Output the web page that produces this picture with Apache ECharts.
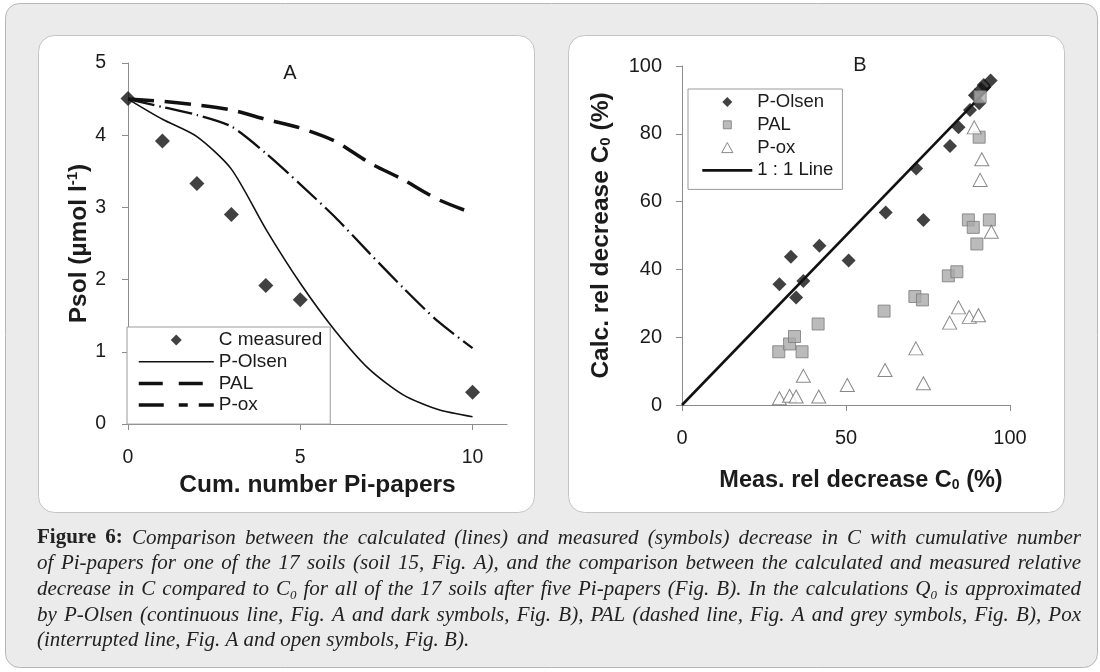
<!DOCTYPE html>
<html>
<head>
<meta charset="utf-8">
<script src="https://cdn.jsdelivr.net/npm/echarts@6/dist/echarts.min.js"></script>
<style>
  html, body { margin: 0; padding: 0; background: #fff; }
  #c { width: 1100px; height: 672px; }
</style>
</head>
<body>
<div id="c"></div>
<script>
// ---- Fig. A: Psol versus cumulative number of Pi-papers (soil 15) ----
const papers = [0, 1, 2, 3, 4, 5, 6, 7, 8, 9, 10];
const measuredPapers = [0, 1, 2, 3, 4, 5, 10];
const measuredPsol = [4.51, 3.92, 3.33, 2.90, 1.92, 1.72, 0.44];
const olsenPsol = [4.50, 4.22, 3.98, 3.53, 2.70, 1.95, 1.30, 0.76, 0.40, 0.20, 0.10];
const palPsol   = [4.50, 4.47, 4.42, 4.35, 4.22, 4.10, 3.92, 3.62, 3.38, 3.11, 2.92];
const poxPsol   = [4.50, 4.39, 4.28, 4.12, 3.75, 3.32, 2.87, 2.37, 1.88, 1.42, 1.05];
const ticksA_x = [0, 5, 10];

// ---- Fig. B: measured vs calculated relative decrease of C0, 17 soils ----
const olsenMeas = [29.7, 33.2, 34.8, 37.0, 41.9, 50.8, 62.1, 71.4, 73.6, 81.7, 84.3, 87.8, 89.3, 90.6, 91.2, 92.0, 94.1];
const olsenCalc = [35.6, 43.7, 31.7, 36.6, 47.0, 42.6, 56.8, 69.8, 54.6, 76.4, 81.9, 87.0, 91.4, 89.0, 93.2, 94.4, 95.7];
const palMeas = [29.5, 32.8, 34.3, 36.6, 41.5, 61.6, 71.0, 73.3, 81.2, 83.8, 87.3, 88.8, 89.9, 90.6, 90.9, 93.7];
const palCalc = [15.7, 18.0, 20.2, 15.7, 23.9, 27.7, 32.0, 31.0, 38.1, 39.3, 54.6, 52.4, 47.5, 79.0, 90.9, 54.6];
const poxMeas = [29.7, 32.8, 34.8, 37.0, 41.7, 50.4, 61.9, 71.3, 73.6, 81.6, 84.3, 87.6, 90.4, 89.1, 91.4, 90.9, 94.3];
const poxCalc = [2.0, 2.7, 2.5, 8.6, 2.5, 5.9, 10.3, 16.7, 6.4, 24.3, 28.8, 26.0, 26.5, 81.9, 72.5, 66.4, 51.1];
const oneToOne = [0, 94];

const captionLead = ['Figure', '6:'];
const captionLines = [
  'Comparison between the calculated (lines) and measured (symbols) decrease in C with cumulative number',
  'of Pi-papers for one of the 17 soils (soil 15, Fig. A), and the comparison between the calculated and measured relative',
  'decrease in C compared to C_0 for all of the 17 soils after five Pi-papers (Fig. B). In the calculations Q_0 is approximated',
  'by P-Olsen (continuous line, Fig. A and dark symbols, Fig. B), PAL (dashed line, Fig. A and grey symbols, Fig. B), Pox',
  '(interrupted line, Fig. A and open symbols, Fig. B).'
];

const SANS = '"Liberation Sans", Arial, Helvetica, sans-serif';
const SERIF = '"Liberation Serif", "DejaVu Serif", serif';
const INK = '#1b1b1b';
const AXIS = '#8c8c8c';
const zip = (a, b) => a.map((v, i) => [v, b[i]]);

// legend glyphs (path icons keep their aspect ratio inside the legend box)
const ICON_DIAMOND = 'path://M5,0L10,5L5,10L0,5Z';
const ICON_SQUARE = 'path://M0,0M10,10M1,1L9,1L9,9L1,9Z';
const ICON_TRIANGLE = 'path://M5,0L10,9L0,9Z';

// Caption: justified lines of italic serif text, laid out word by word
function captionElements() {
  const ctx = document.createElement('canvas').getContext('2d');
  const X0 = 37, X1 = 1081, W = X1 - X0, Y0 = 538, LH = 25.7;
  const fontFor = (run, size) => run.bold
    ? `bold ${size}px ${SERIF}`
    : `italic ${run.sub ? Math.round(size * 0.62) : size}px ${SERIF}`;
  const measure = (run, size) => { ctx.font = fontFor(run, size); return ctx.measureText(run.t).width; };
  const lines = captionLines.map((line, i) => {
    const words = [];
    if (i === 0) captionLead.forEach(t => words.push([{ t, bold: true }]));
    line.split(' ').forEach(w => {
      const m = w.match(/^(.*?)_(\d)(.*)$/);
      if (m) {
        const runs = [{ t: m[1] }, { t: m[2], sub: true }];
        if (m[3]) runs.push({ t: m[3] });
        words.push(runs);
      } else words.push([{ t: w }]);
    });
    return words;
  });
  const wordW = (word, size) => word.reduce((s, r) => s + measure(r, size), 0);
  const spaceW = size => measure({ t: ' ' }, size);
  // pick a size so the fullest justified line still fits with normal spacing
  let size = 20;
  let widest = 0;
  lines.slice(0, 4).forEach(ws => {
    const nat = ws.reduce((s, w) => s + wordW(w, size), 0) + (ws.length - 1) * spaceW(size);
    widest = Math.max(widest, nat);
  });
  size = Math.min(21, size * (W * 0.985) / widest);
  const els = [];
  lines.forEach((ws, li) => {
    const y = Y0 + li * LH;
    const total = ws.reduce((s, w) => s + wordW(w, size), 0);
    const gap = li < 4 ? (W - total) / (ws.length - 1) : spaceW(size);
    let x = X0;
    ws.forEach(word => {
      word.forEach(run => {
        els.push({
          type: 'text', x, y: run.sub ? y + size * 0.3 : y, silent: true,
          style: { text: run.t, font: fontFor(run, size), fill: '#222222', align: 'left', verticalAlign: 'middle' }
        });
        x += measure(run, size);
      });
      x += gap;
    });
  });
  return els;
}

const chart = echarts.init(document.getElementById('c'), null, { renderer: 'canvas', width: 1100, height: 672 });

const tickLabel = { color: INK, fontFamily: SANS };
const axisLine = { show: true, lineStyle: { color: AXIS, width: 1 } };
const axisTick = { show: true, inside: false, length: 6, lineStyle: { color: AXIS, width: 1 } };
const nameStyle = { color: INK, fontFamily: SANS, fontWeight: 'bold', fontSize: 24.5 };
const richName = (size, supPad) => ({
  t: { fontSize: size, fontWeight: 'bold', color: INK, fontFamily: SANS },
  s: { fontSize: Math.round(size * 0.6), fontWeight: 'bold', color: INK, fontFamily: SANS, padding: supPad }
});
const noDot = { opacity: 0 };

const option = {
  backgroundColor: '#ffffff',
  animation: false,
  textStyle: { fontFamily: SANS },
  graphic: [
    { type: 'rect', z: -20, silent: true, shape: { x: 5.5, y: 3.5, width: 1092, height: 664, r: 14 },
      style: { fill: '#ebebec', stroke: '#b7b7b7', lineWidth: 1 } },
    { type: 'rect', z: -19, silent: true, shape: { x: 38.5, y: 35.5, width: 496, height: 477, r: 16 },
      style: { fill: '#ffffff', stroke: '#c4c4c4', lineWidth: 1 } },
    { type: 'rect', z: -19, silent: true, shape: { x: 568.5, y: 35.5, width: 496, height: 477, r: 16 },
      style: { fill: '#ffffff', stroke: '#c4c4c4', lineWidth: 1 } },
    { type: 'text', x: 290, y: 73, silent: true,
      style: { text: 'A', font: `20px ${SANS}`, fill: INK, align: 'center', verticalAlign: 'middle' } },
    { type: 'text', x: 860, y: 65, silent: true,
      style: { text: 'B', font: `20px ${SANS}`, fill: INK, align: 'center', verticalAlign: 'middle' } },
    ...captionElements()
  ],
  grid: [
    { left: 128, top: 63, width: 379, height: 361 },
    { left: 682, top: 66, width: 328, height: 339 }
  ],
  xAxis: [
    {
      gridIndex: 0, type: 'value', min: 0, max: 11,
      axisLine, splitLine: { show: false },
      axisTick: Object.assign({ customValues: ticksA_x }, axisTick),
      axisLabel: Object.assign({ customValues: ticksA_x, margin: 24, fontSize: 19.5 }, tickLabel),
      name: 'Cum. number Pi-papers', nameLocation: 'middle', nameGap: 49, nameTextStyle: nameStyle
    },
    {
      gridIndex: 1, type: 'value', min: 0, max: 100, interval: 50,
      axisLine, axisTick, splitLine: { show: false },
      axisLabel: Object.assign({ margin: 23, fontSize: 20 }, tickLabel),
      name: '{t|Meas. rel decrease C}{s|0}{t| (%)}', nameLocation: 'middle', nameGap: 64,
      nameTextStyle: Object.assign({}, nameStyle, { fontSize: 23.5, padding: [0, 0, 0, 30], rich: richName(23.5, [9, 0, 0, 0]) })
    }
  ],
  yAxis: [
    {
      gridIndex: 0, type: 'value', min: 0, max: 5, interval: 1,
      axisLine, axisTick, splitLine: { show: false },
      axisLabel: Object.assign({ margin: 22, fontSize: 19.5 }, tickLabel),
      name: '{t|Psol (µmol l}{s|-1}{t|)}', nameLocation: 'middle', nameGap: 36,
      nameTextStyle: Object.assign({}, nameStyle, { rich: richName(24.5, [0, 0, 11, 0]) })
    },
    {
      gridIndex: 1, type: 'value', min: 0, max: 100, interval: 20,
      axisLine, axisTick, splitLine: { show: false },
      axisLabel: Object.assign({ margin: 20, fontSize: 20 }, tickLabel),
      name: '{t|Calc. rel decrease C}{s|0}{t| (%)}', nameLocation: 'middle', nameGap: 68,
      nameTextStyle: Object.assign({}, nameStyle, { rich: richName(24.5, [9, 0, 0, 0]) })
    }
  ],
  legend: [
    {
      orient: 'vertical', left: 127, top: 327,
      padding: [3, 8, 9, 10], itemGap: 1.7, itemWidth: 75, itemHeight: 11,
      backgroundColor: '#ffffff', borderColor: '#9a9a9a', borderWidth: 1, borderRadius: 0,
      textStyle: { fontSize: 19, lineHeight: 20, color: INK, fontFamily: SANS },
      lineStyle: { width: 'inherit' },
      selectedMode: false,
      data: [
        { name: 'C measured', icon: ICON_DIAMOND },
        { name: 'P-Olsen', itemStyle: noDot },
        { name: 'PAL', itemStyle: noDot, lineStyle: { type: [24, 16], width: 3.5 } },
        { name: 'P-ox', itemStyle: noDot, lineStyle: { type: [25, 15, 9, 11], width: 3.5 } }
      ]
    },
    {
      orient: 'vertical', left: 688, top: 89,
      padding: [3, 9, 9, 13], itemGap: 2.8, itemWidth: 50, itemHeight: 10,
      backgroundColor: '#ffffff', borderColor: '#9a9a9a', borderWidth: 1, borderRadius: 0,
      textStyle: { fontSize: 18.5, lineHeight: 20, color: INK, fontFamily: SANS },
      lineStyle: { width: 'inherit' },
      selectedMode: false,
      formatter: n => n.replace(' (B)', ''),
      data: [
        { name: 'P-Olsen (B)', icon: ICON_DIAMOND },
        { name: 'PAL (B)', icon: ICON_SQUARE, itemStyle: { borderWidth: 1 } },
        { name: 'P-ox (B)', icon: ICON_TRIANGLE, itemStyle: { borderWidth: 1 } },
        { name: '1 : 1 Line', itemStyle: noDot }
      ]
    }
  ],
  series: [
    {
      name: 'P-Olsen', type: 'line', xAxisIndex: 0, yAxisIndex: 0, symbol: 'none', smooth: 0.25,
      data: zip(papers, olsenPsol), lineStyle: { color: '#111', width: 1.6 }, itemStyle: { color: '#111' }, z: 3
    },
    {
      name: 'PAL', type: 'line', xAxisIndex: 0, yAxisIndex: 0, symbol: 'none', smooth: 0.25,
      data: zip(papers, palPsol), lineStyle: { color: '#111', width: 3.5, type: [26, 11] }, itemStyle: { color: '#111' }, z: 3
    },
    {
      name: 'P-ox', type: 'line', xAxisIndex: 0, yAxisIndex: 0, symbol: 'none', smooth: 0.25,
      data: zip(papers, poxPsol), lineStyle: { color: '#111', width: 2.3, type: [27, 5, 1.5, 5] }, itemStyle: { color: '#111' }, z: 3
    },
    {
      name: 'C measured', type: 'scatter', xAxisIndex: 0, yAxisIndex: 0, symbol: 'diamond', symbolSize: 15,
      data: zip(measuredPapers, measuredPsol), itemStyle: { color: '#111' }, z: 4
    },
    {
      name: '1 : 1 Line', type: 'line', xAxisIndex: 1, yAxisIndex: 1, symbol: 'none',
      data: zip(oneToOne, oneToOne), lineStyle: { color: '#111', width: 2.6 }, itemStyle: { color: '#111' }, z: 2
    },
    {
      name: 'P-Olsen (B)', type: 'scatter', xAxisIndex: 1, yAxisIndex: 1, symbol: 'diamond', symbolSize: 14,
      data: zip(olsenMeas, olsenCalc), itemStyle: { color: '#111' }, z: 3
    },
    {
      name: 'PAL (B)', type: 'scatter', xAxisIndex: 1, yAxisIndex: 1, symbol: 'rect', symbolSize: 12,
      data: zip(palMeas, palCalc), itemStyle: { color: '#aaaaaa', borderColor: '#7a7a7a', borderWidth: 1 }, z: 4
    },
    {
      name: 'P-ox (B)', type: 'scatter', xAxisIndex: 1, yAxisIndex: 1, symbol: 'triangle', symbolSize: [14, 13],
      data: zip(poxMeas, poxCalc), itemStyle: { color: '#ffffff', borderColor: '#6a6a6a', borderWidth: 1 }, z: 5
    }
  ]
};

chart.setOption(option);
</script>
</body>
</html>
